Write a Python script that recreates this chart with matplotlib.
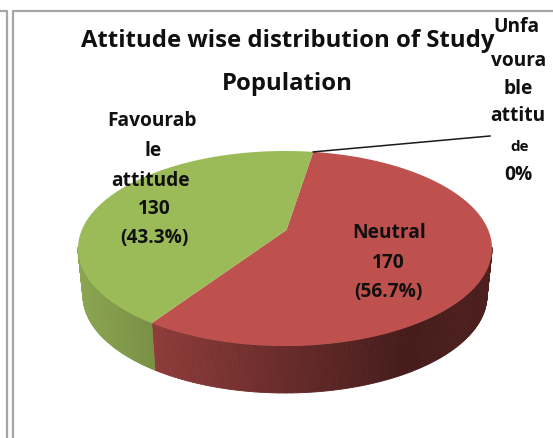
import numpy as np
import matplotlib
matplotlib.use("Agg")
import matplotlib.pyplot as plt
from matplotlib.collections import PolyCollection
from matplotlib.colors import to_rgb

title_lines = ["Attitude wise distribution of Study", "Population"]
categories = ["Neutral", "Unfavourable attitude", "Favourable attitude"]
values = [170, 0, 130]
percent = ["56.7%", "0%", "43.3%"]

W, H = 553, 438
fig = plt.figure(figsize=(W / 100, H / 100), dpi=100)
ax = fig.add_axes([0, 0, 1, 1])
ax.set_xlim(0, W)
ax.set_ylim(H, 0)
ax.axis("off")
FONT = "Open Sans"

# panel frames
frame = "#a6a6a6"
ax.plot([0, 7, 7], [11, 11, H], color=frame, lw=1.6)
ax.plot([12.5, 12.5, W], [H, 11, 11], color=frame, lw=1.6)

cx, cy, rx, ry = 285, 248.5, 207, 97.5
depth, brx, bry = 47, 202, 97.5
apex_v = 0.19  # pie centre is seen above the ellipse centre
p = 1j * apex_v / (1 + np.sqrt(1 - apex_v ** 2))
apex = (cx + 1.5, cy - apex_v * ry)


def persp(theta):
    z = np.exp(1j * theta)
    return np.unwrap(np.angle((z + p) / (1 + np.conj(p) * z)))


def top(phi):
    return np.c_[cx + rx * np.cos(phi), cy - ry * np.sin(phi)]


def bottom(phi):
    return np.c_[cx + brx * np.cos(phi), cy + depth - bry * np.sin(phi)]


top_cols = ["#BE504D", "#000000", "#9BBB59"]
side_ramps = [
    [(0.0, "#8E3C3A"), (0.75, "#451C1B"), (1.0, "#4E201E")],
    [(0.0, "#000000"), (1.0, "#000000")],
    [(0.0, "#8CA652"), (1.0, "#7A9045")],
]


def shade(ramp, t):
    xs = [r[0] for r in ramp]
    rgb = np.array([to_rgb(r[1]) for r in ramp])
    return tuple(np.interp(t, xs, rgb[:, i]) for i in range(3))


start = np.deg2rad(80.5)
total = sum(values)
ang = start
for v, col, ramp in zip(values, top_cols, side_ramps):
    sweep = 2 * np.pi * v / total
    if v == 0:
        continue
    th = np.linspace(ang, ang - sweep, 300)
    phi = persp(th)
    # side wall
    s = (np.sin(phi) < 0.02)
    idx = np.where(s[:-1] & s[1:])[0]
    quads, cols = [], []
    xvis = top(phi[s])[:, 0]
    x0, x1 = xvis.min(), xvis.max()
    for i in idx:
        a, b = phi[i], phi[i + 1]
        q = np.r_[top(np.array([a, b])), bottom(np.array([b, a]))]
        quads.append(q)
        cols.append(shade(ramp, (q[:, 0].mean() - x0) / (x1 - x0)))
    ax.add_collection(PolyCollection(quads, facecolors=cols, edgecolors=cols, linewidths=0.6, zorder=2))
    poly = np.r_[[apex], top(phi)]
    ax.fill(poly[:, 0], poly[:, 1], color=col, lw=0, zorder=3)
    ang -= sweep

# leader line for the empty slice
leader = top(persp(np.array([start])))[0]
ax.plot([leader[0], 490], [leader[1], 136], color="#1a1a1a", lw=1.1, zorder=4)

tk = dict(family=FONT, weight="bold", ha="center", va="center", color="#101010", zorder=5)
ax.text(288, 41, title_lines[0], fontsize=17.2, **tk)
ax.text(287, 83.5, title_lines[1], fontsize=17.2, **tk)

neutral_lines = [categories[0], str(values[0]), f"({percent[0]})"]
for s, x, y in zip(neutral_lines, [389, 388, 388], [233.5, 263.5, 292.5]):
    ax.text(x, y, s, fontsize=13.8, **tk)

fav_lines = ["Favourab", "le", "attitude", str(values[2]), f"({percent[2]})"]
for s, x, y in zip(fav_lines, [152, 153, 151, 154, 154], [121.5, 151.5, 181.5, 209.5, 237.5]):
    ax.text(x, y, s, fontsize=13.8, **tk)

unf_lines = ["Unfa", "voura", "ble", "attitu", "de", percent[1]]
for s, x, y in zip(unf_lines, [516, 519, 518, 518, 520, 518], [27, 61, 89, 116, 147, 175]):
    ax.text(x, y, s, fontsize=13.8 if s != "de" else 11, **tk)

fig.savefig("out.png", dpi=100)
